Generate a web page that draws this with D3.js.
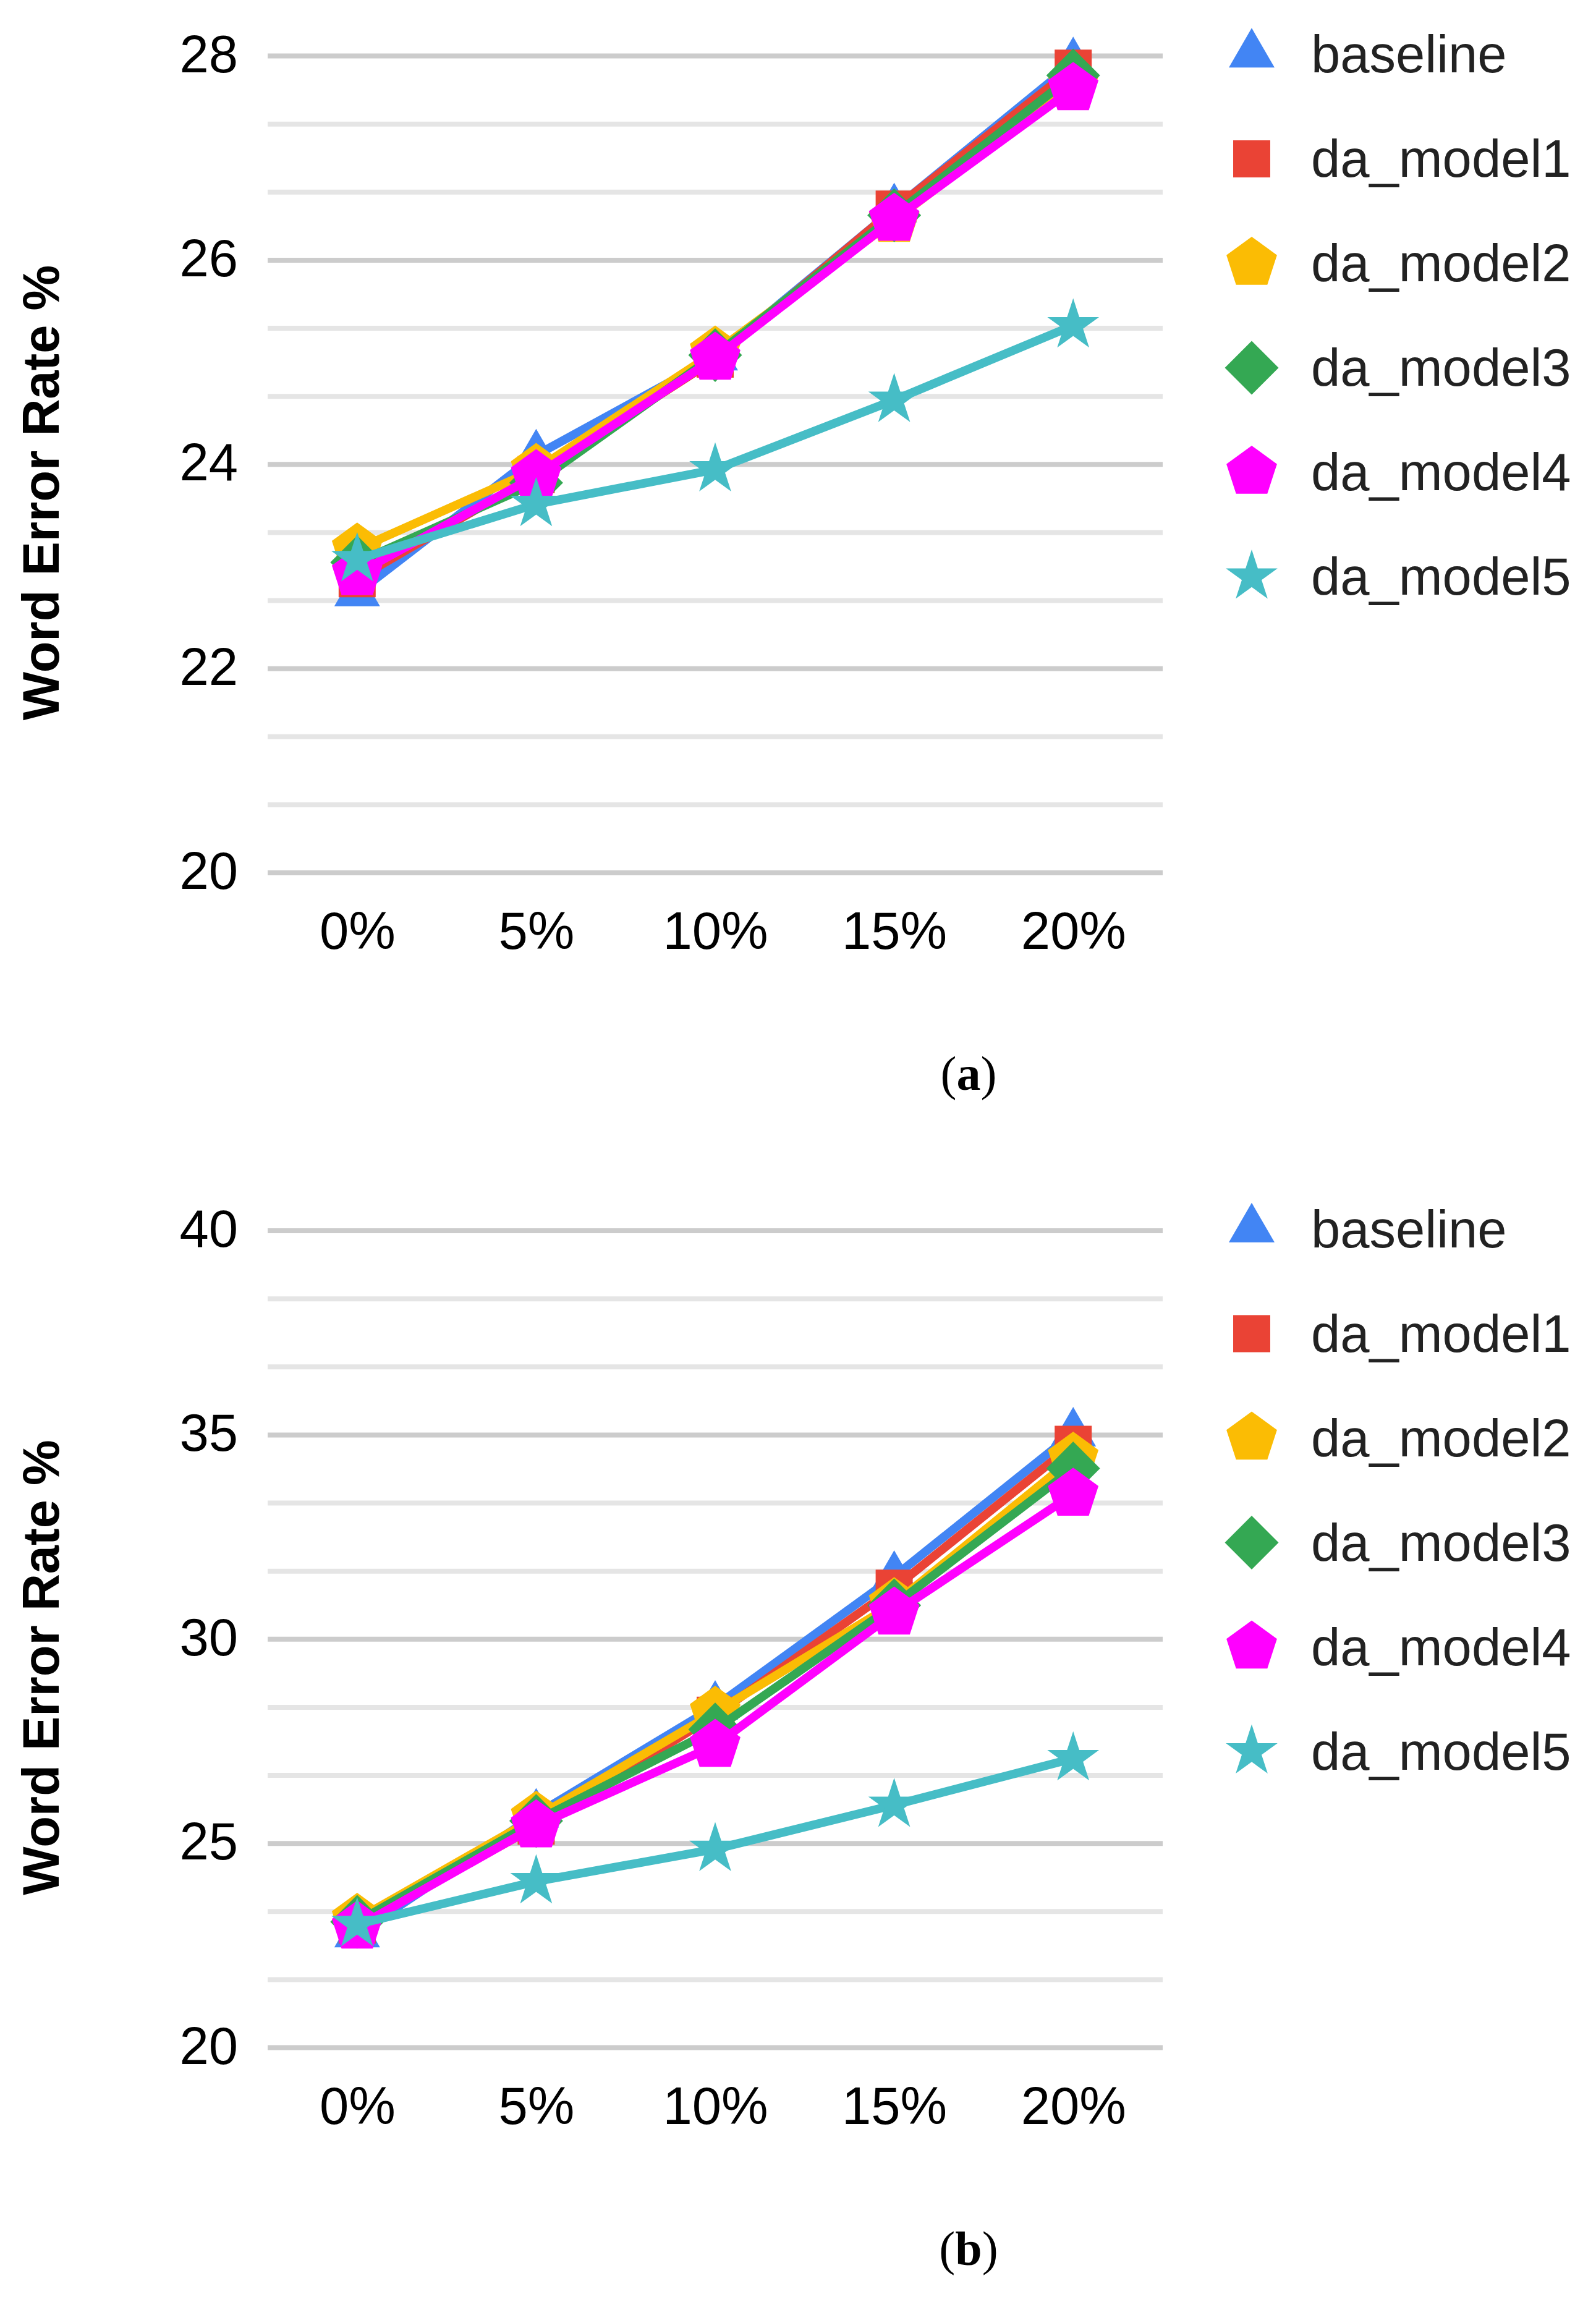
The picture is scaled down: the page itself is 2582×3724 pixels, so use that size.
<!DOCTYPE html>
<html><head><meta charset="utf-8">
<script src="https://cdn.jsdelivr.net/npm/d3@7"></script>
<style>body{margin:0;background:#fff}</style>
</head><body>
<script>
// ---------- data ----------
const categories = ["0%", "5%", "10%", "15%", "20%"];
const seriesNames = ["baseline", "da_model1", "da_model2", "da_model3", "da_model4", "da_model5"];
const seriesColors = ["#4285F4", "#EA4335", "#FBBC04", "#34A853", "#FF00FF", "#46BDC6"];
const seriesShapes = ["triangle", "square", "pentagon", "diamond", "pentagon", "star"];

// panel (a)
const aBaseline = [22.74, 24.09, 25.05, 26.50, 27.93];
const aModel1   = [22.88, 23.90, 25.03, 26.50, 27.88];
const aModel2   = [23.17, 23.95, 25.10, 26.39, 27.72];
const aModel3   = [23.04, 23.82, 25.07, 26.44, 27.81];
const aModel4   = [22.93, 23.89, 25.04, 26.40, 27.68];
const aModel5   = [23.07, 23.61, 23.95, 24.63, 25.36];
const aTicks = [20, 22, 24, 26, 28];

// panel (b)
const bBaseline = [22.78, 25.71, 28.35, 31.53, 35.04];
const bModel1   = [23.00, 25.42, 28.14, 31.25, 34.77];
const bModel2   = [23.14, 25.64, 28.21, 30.87, 34.43];
const bModel3   = [23.08, 25.55, 27.79, 30.83, 34.18];
const bModel4   = [22.95, 25.43, 27.40, 30.64, 33.55];
const bModel5   = [23.02, 24.07, 24.86, 25.94, 27.08];
const bTicks = [20, 25, 30, 35, 40];

// ---------- layout ----------
const W = 2582, H = 3724;
const FONT = "'Liberation Sans', Arial, Helvetica, sans-serif";
const svg = d3.select("body").append("svg")
  .attr("width", W).attr("height", H)
  .style("background", "#fff");

// symbol types (size = R^2)
function polyType(n, rot, inner) {
  return {
    draw(ctx, size) {
      const R = Math.sqrt(size);
      const pts = [];
      const k = inner ? 2 * n : n;
      for (let i = 0; i < k; i++) {
        const a = rot + i * 2 * Math.PI / k;
        const r = inner && (i % 2 === 1) ? R * inner : R;
        pts.push([r * Math.cos(a), r * Math.sin(a)]);
      }
      ctx.moveTo(pts[0][0], pts[0][1]);
      for (let i = 1; i < pts.length; i++) ctx.lineTo(pts[i][0], pts[i][1]);
      ctx.closePath();
    }
  };
}
const symbolTypes = {
  triangle: { t: polyType(3, -Math.PI / 2), R: 42.7 },
  square:   { t: polyType(4, -Math.PI / 4), R: 42.4 },
  pentagon: { t: polyType(5, -Math.PI / 2), R: 43 },
  diamond:  { t: polyType(4, -Math.PI / 2), R: 43.5 },
  star:     { t: polyType(5, -Math.PI / 2, 0.382), R: 44 }
};
function symPath(shape) {
  const s = symbolTypes[shape];
  return d3.symbol().type(s.t).size(s.R * s.R)();
}

function panel(offY, ticks, minorStep, domain, seriesVals, label) {
  const top = 90.5 + offY, bottom = 1412 + offY;
  const x = d3.scalePoint().domain(categories).range([433, 1881]).padding(0.5);
  const y = d3.scaleLinear().domain(domain).range([bottom, top]);
  const g = svg.append("g");

  // gridlines
  const minor = d3.range(domain[0], domain[1] + 1e-6, minorStep)
    .filter(v => !ticks.some(t => Math.abs(t - v) < 1e-6));
  g.append("g").selectAll("line").data(minor).join("line")
    .attr("x1", 433).attr("x2", 1881)
    .attr("y1", d => y(d)).attr("y2", d => y(d))
    .attr("stroke", "#e5e5e5").attr("stroke-width", 8);
  g.append("g").selectAll("line").data(ticks).join("line")
    .attr("x1", 433).attr("x2", 1881)
    .attr("y1", d => y(d)).attr("y2", d => y(d))
    .attr("stroke", "#cccccc").attr("stroke-width", 8);

  // y axis labels
  const ya = g.append("g").attr("transform", `translate(433,0)`)
    .call(d3.axisLeft(y).tickValues(ticks).tickSize(0).tickPadding(48).tickFormat(d3.format("d")));
  ya.select(".domain").remove();
  ya.selectAll("text").attr("font-family", FONT).attr("font-size", 85)
    .attr("fill", "#000").attr("dy", "0.3em");

  // x axis labels
  const xa = g.append("g").attr("transform", `translate(0,${bottom})`)
    .call(d3.axisBottom(x).tickSize(0).tickPadding(63));
  xa.select(".domain").remove();
  xa.selectAll("text").attr("font-family", FONT).attr("font-size", 85).attr("fill", "#000");

  // y title
  g.append("text")
    .attr("transform", `translate(95,${797 + offY}) rotate(-90)`)
    .attr("text-anchor", "middle")
    .attr("font-family", FONT).attr("font-weight", "bold").attr("font-size", 83)
    .attr("fill", "#000")
    .text("Word Error Rate %");

  // series
  const line = d3.line().x((d, i) => x(categories[i])).y(d => y(d));
  seriesVals.forEach((vals, si) => {
    const sg = g.append("g");
    sg.append("path").attr("d", line(vals))
      .attr("fill", "none").attr("stroke", seriesColors[si])
      .attr("stroke-width", 14).attr("stroke-linejoin", "round");
    sg.selectAll("path.m").data(vals).join("path").attr("class", "m")
      .attr("d", symPath(seriesShapes[si]))
      .attr("transform", (d, i) => `translate(${x(categories[i])},${y(d)})`)
      .attr("fill", seriesColors[si]);
  });

  // legend
  const lg = g.append("g");
  seriesNames.forEach((name, i) => {
    const by = 117 + i * 169 + offY;
    lg.append("path").attr("d", symPath(seriesShapes[i]))
      .attr("transform", `translate(2025,${by - 29})`)
      .attr("fill", seriesColors[i]);
    lg.append("text").attr("x", 2121).attr("y", by)
      .attr("font-family", FONT).attr("font-size", 85).attr("fill", "#222")
      .text(name);
  });

  // caption
  const cap = g.append("text").attr("x", 1567).attr("y", 1763 + offY)
    .attr("text-anchor", "middle")
    .attr("font-family", "'Liberation Serif', 'Times New Roman', serif")
    .attr("font-size", 78).attr("fill", "#000");
  cap.append("tspan").text("(");
  cap.append("tspan").attr("font-weight", "bold").text(label);
  cap.append("tspan").text(")");
}

panel(0, aTicks, 2 / 3, [20, 28],
  [aBaseline, aModel1, aModel2, aModel3, aModel4, aModel5], "a");
panel(1900.5, bTicks, 5 / 3, [20, 40],
  [bBaseline, bModel1, bModel2, bModel3, bModel4, bModel5], "b");
</script>
</body></html>
